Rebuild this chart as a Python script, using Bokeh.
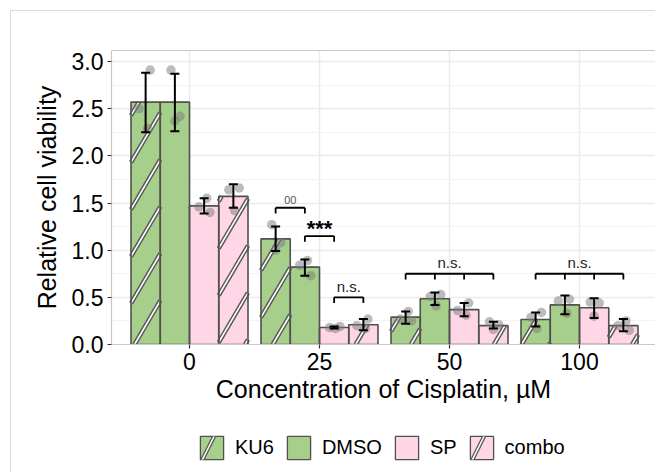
import numpy as np
from bokeh.plotting import figure
from bokeh.layouts import column
from bokeh.models import (Range1d, FixedTicker, SingleIntervalTicker, NumeralTickFormatter,
                          ColumnDataSource, Whisker, TeeHead, Legend, LegendItem,
                          LinearAxis, Label)
from bokeh.embed import file_html
from bokeh.resources import INLINE

# ---------------- data ----------------
CONC = ["0", "25", "50", "100"]
TREATMENTS = ["KU6", "DMSO", "SP", "combo"]

KU6_MEAN = [2.57, 1.12, 0.29, 0.265]
DMSO_MEAN = [2.57, 0.82, 0.485, 0.42]
SP_MEAN = [1.47, 0.18, 0.37, 0.39]
COMBO_MEAN = [1.57, 0.21, 0.20, 0.20]

KU6_LO = [2.25, 0.99, 0.22, 0.19]
KU6_HI = [2.88, 1.25, 0.35, 0.34]
DMSO_LO = [2.26, 0.73, 0.42, 0.32]
DMSO_HI = [2.87, 0.90, 0.55, 0.52]
SP_LO = [1.39, 0.17, 0.30, 0.28]
SP_HI = [1.55, 0.19, 0.44, 0.49]
COMBO_LO = [1.45, 0.15, 0.17, 0.14]
COMBO_HI = [1.70, 0.27, 0.24, 0.27]

KU6_PTS = [[2.91, 2.50, 2.29], [1.27, 1.08, 1.00], [0.35, 0.27, 0.25], [0.34, 0.29, 0.17]]
DMSO_PTS = [[2.91, 2.42, 2.37], [0.89, 0.84, 0.73], [0.53, 0.51, 0.41], [0.48, 0.46, 0.33]]
SP_PTS = [[1.55, 1.46, 1.40], [0.19, 0.18, 0.17], [0.44, 0.36, 0.31], [0.45, 0.44, 0.30]]
COMBO_PTS = [[1.66, 1.64, 1.42], [0.27, 0.20, 0.17], [0.24, 0.21, 0.16], [0.25, 0.20, 0.15]]

# significance brackets: concentration index, first/last treatment index, height, label
BR_CONC = [1, 1, 1, 2, 3]
BR_FROM = [0, 1, 2, 0, 0]
BR_TO = [1, 2, 3, 3, 3]
BR_Y = [1.45, 1.15, 0.50, 0.75, 0.75]
BR_LABEL = ["00", "***", "n.s.", "n.s.", "n.s."]

MEANS = [KU6_MEAN, DMSO_MEAN, SP_MEAN, COMBO_MEAN]
LOS = [KU6_LO, DMSO_LO, SP_LO, COMBO_LO]
HIS = [KU6_HI, DMSO_HI, SP_HI, COMBO_HI]
PTS = [KU6_PTS, DMSO_PTS, SP_PTS, COMBO_PTS]

# ---------------- style ----------------
GREEN = "#a6cf8c"
PINK = "#ffd6e6"
FILLS = [GREEN, GREEN, PINK, PINK]
HATCHED = [True, False, False, True]
EDGE = "#505050"
FONT = "Liberation Sans"
BAR_W = 0.225
PANEL_LINE = "#c8c8c8"

OFF = 11                      # page offset of the outer light frame
LEFT, TOP = 111 - OFF, 50 - OFF
FRAME_W, FRAME_H = 655 - 111, 294
BOTTOM = 66
LEG_TOP = 13
LEG_H = 472 - 50 - FRAME_H - BOTTOM - LEG_TOP
X0 = -0.6
PX_X = 130.0
X1 = X0 + FRAME_W / PX_X
Y1 = 3.117
PX_Y = FRAME_H / Y1

p = figure(frame_width=FRAME_W, frame_height=FRAME_H,
           x_range=Range1d(X0, X1), y_range=Range1d(0, Y1),
           output_backend="svg", toolbar_location=None,
           min_border_left=LEFT, min_border_right=0, min_border_top=TOP,
           min_border_bottom=BOTTOM)
p.background_fill_color = "white"
p.border_fill_color = "white"
p.outline_line_color = None

# grid
p.xgrid.ticker = FixedTicker(ticks=list(range(len(CONC))))
p.xgrid.grid_line_color = "#ebebeb"
p.xgrid.grid_line_width = 1.5
p.ygrid.grid_line_color = "#ebebeb"
p.ygrid.grid_line_width = 1.5
p.ygrid.minor_grid_line_color = "#f3f3f3"
p.ygrid.minor_grid_line_width = 1.2

# axes
p.yaxis.ticker = SingleIntervalTicker(interval=0.5, num_minor_ticks=2)
p.yaxis.formatter = NumeralTickFormatter(format="0.0")
p.xaxis.ticker = FixedTicker(ticks=list(range(len(CONC))))
p.xaxis.major_label_overrides = {i: c for i, c in enumerate(CONC)}
for ax in (p.xaxis[0], p.yaxis[0]):
    ax.axis_line_color = PANEL_LINE
    ax.axis_line_width = 1.2
    ax.major_tick_line_color = "#333333"
    ax.major_tick_line_width = 1.2
    ax.major_tick_out = 4
    ax.major_tick_in = 0
    ax.minor_tick_line_color = None
    ax.major_label_text_font = FONT
    ax.major_label_text_font_size = "23px"
    ax.major_label_text_color = "black"
    ax.axis_label_text_font = FONT
    ax.axis_label_text_font_size = "25px"
    ax.axis_label_text_font_style = "normal"
    ax.axis_label_text_color = "black"
p.yaxis.axis_label = "Relative cell viability"
p.xaxis.axis_label = "Concentration of Cisplatin, \u00b5M"
p.yaxis.major_label_standoff = 4
p.xaxis.major_label_standoff = 4
p.yaxis.axis_label_standoff = 8
p.xaxis.axis_label_standoff = 2

# top border of the panel
top_axis = LinearAxis(ticker=FixedTicker(ticks=[]), axis_line_color=PANEL_LINE,
                      axis_line_width=1.2, major_tick_line_color=None,
                      minor_tick_line_color=None)
p.add_layout(top_axis, "above")

# ---------------- bars ----------------
def dodge(t):
    return (t - 1.5) * BAR_W

seg_x0, seg_y0, seg_x1, seg_y1 = [], [], [], []
SLOPE = 1.7
PERIOD = 47.0
ANCHOR = 134.0 - OFF  # px where a stripe meets the baseline

for t, name in enumerate(TREATMENTS):
    xs = [c + dodge(t) for c in range(len(CONC))]
    src = ColumnDataSource(dict(x=xs, top=MEANS[t]))
    p.vbar(x="x", top="top", width=BAR_W, source=src, fill_color=FILLS[t], line_color=None)
    if HATCHED[t]:
        for c in range(len(CONC)):
            xl = xs[c] - BAR_W / 2
            xr = xs[c] + BAR_W / 2
            ul = LEFT + (xl - X0) * PX_X
            ur = LEFT + (xr - X0) * PX_X
            hpx = MEANS[t][c] * PX_Y
            step = PERIOD / SLOPE
            k0 = int(np.floor((ul - hpx / SLOPE - ANCHOR) / step)) - 1
            k1 = int(np.ceil((ur - ANCHOR) / step)) + 1
            for k in range(k0, k1 + 1):
                xb = ANCHOR + k * step
                ua = max(ul, xb)
                ub = min(ur, xb + hpx / SLOPE)
                if ub - ua > 0.5:
                    seg_x0.append(X0 + (ua - LEFT) / PX_X)
                    seg_y0.append((ua - xb) * SLOPE / PX_Y)
                    seg_x1.append(X0 + (ub - LEFT) / PX_X)
                    seg_y1.append((ub - xb) * SLOPE / PX_Y)

hsrc = ColumnDataSource(dict(x0=seg_x0, y0=seg_y0, x1=seg_x1, y1=seg_y1))
p.segment(x0="x0", y0="y0", x1="x1", y1="y1", source=hsrc, line_color="#555555", line_width=4.5)
p.segment(x0="x0", y0="y0", x1="x1", y1="y1", source=hsrc, line_color="white", line_width=1.6)

for t, name in enumerate(TREATMENTS):
    xs = [c + dodge(t) for c in range(len(CONC))]
    src = ColumnDataSource(dict(x=xs, top=MEANS[t], lo=LOS[t], hi=HIS[t]))
    p.vbar(x="x", top="top", width=BAR_W, source=src, fill_color=None,
           line_color=EDGE, line_width=1.6)
    wh = Whisker(source=src, base="x", upper="hi", lower="lo", dimension="height",
                 line_color="black", line_width=2, level="annotation",
                 upper_head=TeeHead(size=9, line_color="black", line_width=2),
                 lower_head=TeeHead(size=9, line_color="black", line_width=2))
    p.add_layout(wh)

JITTER = [[0.035, -0.05, 0.015], [-0.03, 0.04, 0.0], [0.02, -0.04, 0.045], [0.045, -0.035, 0.01]]
px_, py_ = [], []
for t in range(len(TREATMENTS)):
    for c in range(len(CONC)):
        for r, v in enumerate(PTS[t][c]):
            px_.append(c + dodge(t) + JITTER[(t + c) % 4][r])
            py_.append(v)
p.scatter(px_, py_, size=9.5, fill_color="#7a7a7a", fill_alpha=0.5, line_color=None)

# ---------------- significance brackets ----------------
TICK = 0.06
LABEL_STYLE = {"00": dict(size="11px", color="#555555", style="normal", off=8),
               "***": dict(size="22px", color="black", style="bold", off=8),
               "n.s.": dict(size="15px", color="#222222", style="normal", off=11)}
hx, hy, tx0, ty0, tx1, ty1 = [], [], [], [], [], []
for i in range(len(BR_Y)):
    c = BR_CONC[i]
    xa = c + dodge(BR_FROM[i])
    xb = c + dodge(BR_TO[i])
    hx.append([xa, xb])
    hy.append([BR_Y[i], BR_Y[i]])
    for t in range(BR_FROM[i], BR_TO[i] + 1):
        tx0.append(c + dodge(t)); ty0.append(BR_Y[i])
        tx1.append(c + dodge(t)); ty1.append(BR_Y[i] - TICK)
    st = LABEL_STYLE[BR_LABEL[i]]
    p.add_layout(Label(x=(xa + xb) / 2, y=BR_Y[i], text=BR_LABEL[i], text_align="center",
                       text_baseline="middle", y_offset=st["off"], text_font=FONT,
                       text_font_size=st["size"], text_color=st["color"],
                       text_font_style=st["style"]))
p.multi_line(hx, hy, line_color="black", line_width=1.8)
p.segment(tx0, ty0, tx1, ty1, line_color="black", line_width=1.8)

# ---------------- legend (separate strip below) ----------------
q = figure(frame_width=FRAME_W, frame_height=LEG_H,
           x_range=Range1d(0, 1), y_range=Range1d(0, 1),
           output_backend="svg", toolbar_location=None,
           min_border_left=LEFT, min_border_right=0, min_border_top=LEG_TOP,
           min_border_bottom=0)
q.axis.visible = False
q.grid.visible = False
q.outline_line_color = None
q.background_fill_color = "white"
q.border_fill_color = "white"

items = []
for t, name in enumerate(TREATMENTS):
    rs = [q.vbar(x=[5], top=[1], width=BAR_W, fill_color=FILLS[t], line_color=EDGE,
                 line_width=1.3, visible=False,
                 hatch_pattern="/" if HATCHED[t] else None, hatch_color="#555555",
                 hatch_weight=4, hatch_scale=70)]
    if HATCHED[t]:
        rs.append(q.vbar(x=[5], top=[1], width=BAR_W, fill_color=None, line_color=None,
                         visible=False, hatch_pattern="/", hatch_color="white",
                         hatch_weight=1.5, hatch_scale=70))
    items.append(LegendItem(label=name, renderers=rs))

legend = Legend(items=items, orientation="horizontal", location=(86, 10),
                glyph_width=29, glyph_height=29, label_text_font=FONT,
                label_text_font_size="20px", label_text_color="black",
                label_standoff=9, spacing=10, click_policy="none",
                inactive_fill_alpha=0,
                padding=0, margin=0, border_line_color=None,
                background_fill_color=None)
q.add_layout(legend, "center")

layout = column(p, q, spacing=0,
                styles={"margin-left": f"{OFF - 1}px", "margin-top": f"{OFF - 1}px",
                        "border-left": "1px solid #dcdcdc",
                        "border-top": "1px solid #dcdcdc"})

open("out.html", "w").write(file_html(layout, INLINE))
